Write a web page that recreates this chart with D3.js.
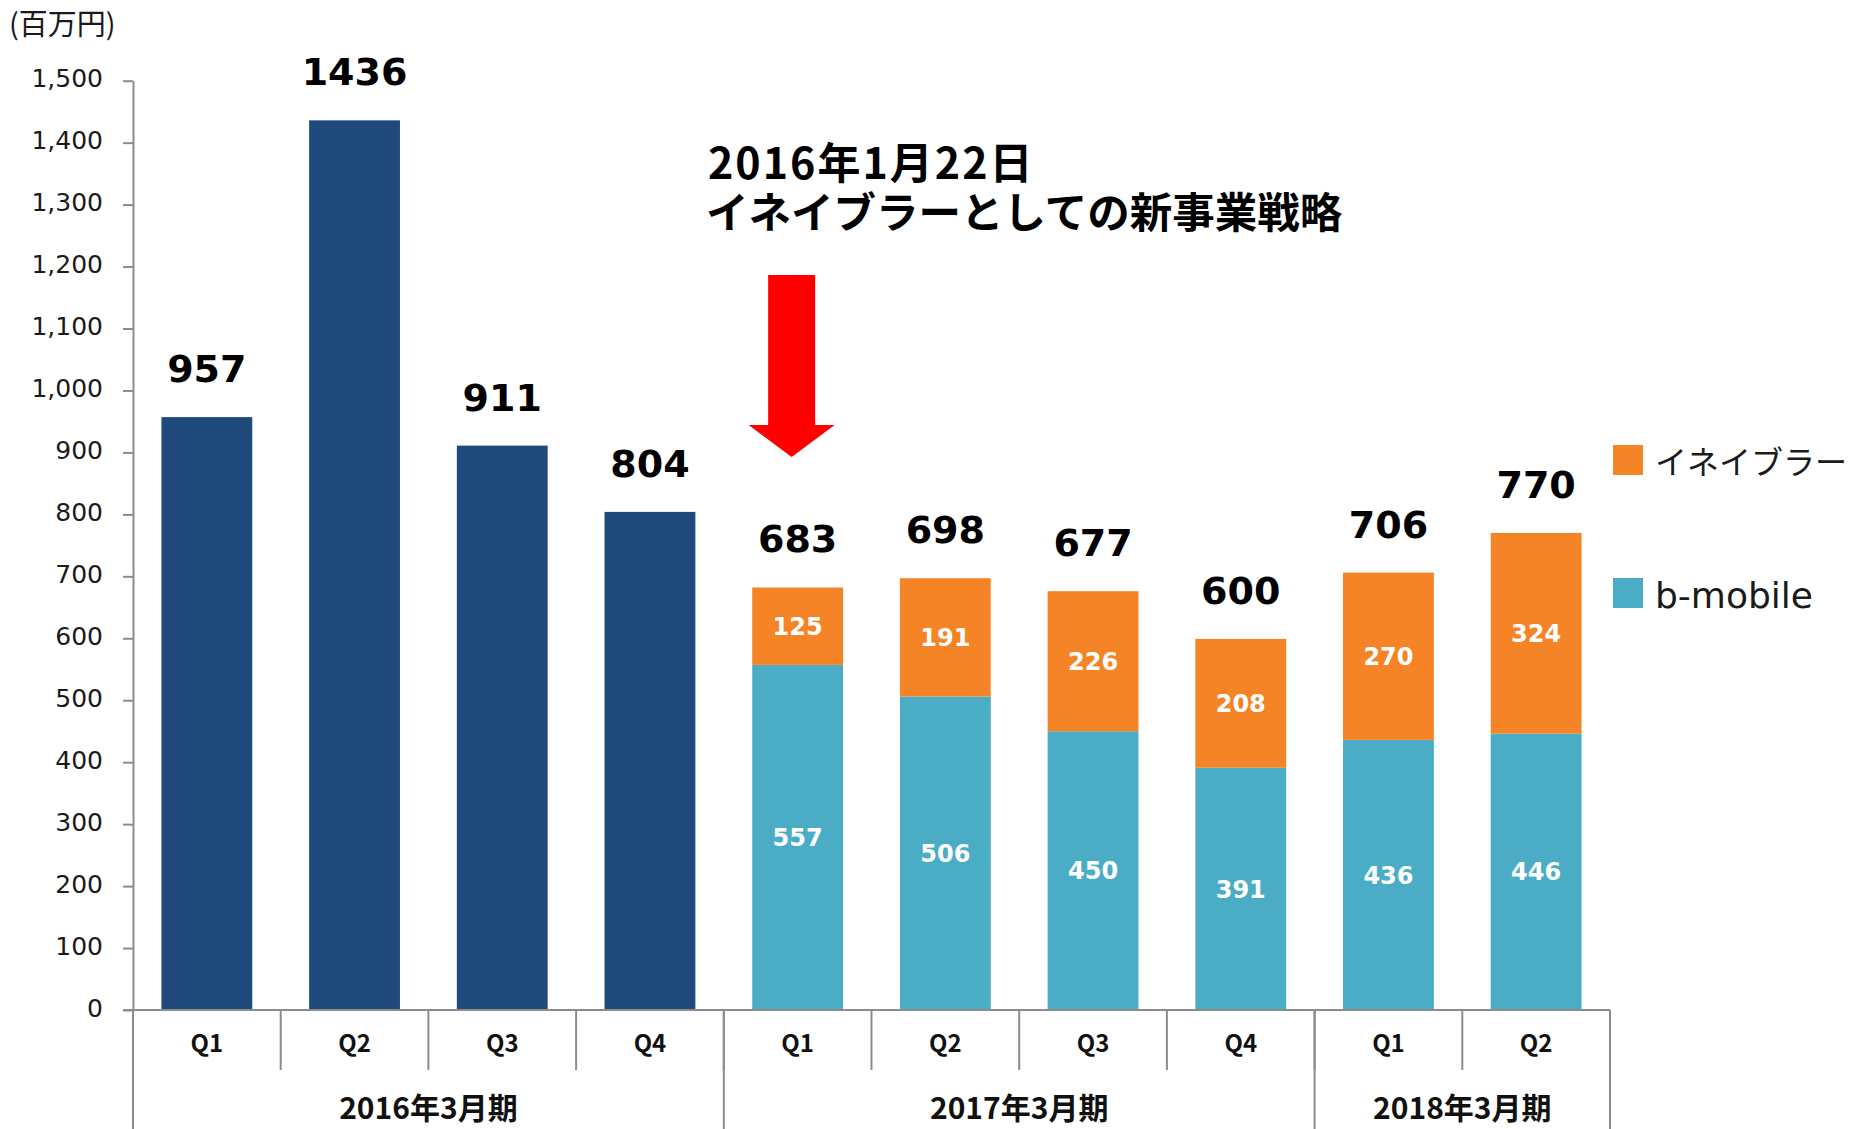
<!DOCTYPE html>
<html>
<head>
<meta charset="utf-8">
<script src="https://cdn.jsdelivr.net/npm/d3@7"></script>
<style>
  html, body { margin: 0; padding: 0; background: #fff; }
  svg { display: block; }
</style>
</head>
<body>
<svg id="chart" width="1850" height="1129"></svg>
<script>
// ---------- DATA ----------
const quarters = ["Q1", "Q2", "Q3", "Q4", "Q1", "Q2", "Q3", "Q4", "Q1", "Q2"];
const fiscalYears = ["2016年3月期", "2017年3月期", "2018年3月期"];
const fiscalYearSpans = [4, 4, 2];
const legacyValues = [957, 1436, 911, 804];              // 2016年3月期 (single series)
const bmobileValues = [557, 506, 450, 391, 436, 446];     // b-mobile
const enablerValues = [125, 191, 226, 208, 270, 324];     // イネイブラー
const totalValues = [957, 1436, 911, 804, 683, 698, 677, 600, 706, 770];
const yTicks = [0, 100, 200, 300, 400, 500, 600, 700, 800, 900, 1000, 1100, 1200, 1300, 1400, 1500];
const seriesNames = ["イネイブラー", "b-mobile"];
const unitLabel = "(百万円)";
const annotationLines = ["2016年1月22日", "イネイブラーとしての新事業戦略"];

// ---------- STYLE ----------
const C_NAVY = "#214A7C", C_TEAL = "#4BACC6", C_ORANGE = "#F58426", C_AXIS = "#8C8C8C";
const NUM_FONT = "'DejaVu Sans', Verdana, sans-serif";
const JP_FONT = "'Noto Sans CJK JP', 'Noto Sans', sans-serif";

const svg = d3.select("#chart");
const keys = quarters.map((q, i) => i);

const x = d3.scaleBand().domain(keys).range([133, 1610]).paddingInner(0.385).paddingOuter(0.1925);
const y = d3.scaleLinear().domain([0, 1500]).range([1010, 80.7]);
const step = x.step();
const cellLeft = i => x(i) - x.paddingOuter() * step;

// ---------- Y AXIS ----------
const yAxis = d3.axisLeft(y).tickValues(yTicks).tickFormat(d3.format(",")).tickSize(10).tickSizeOuter(0).tickPadding(20);
const gy = svg.append("g").attr("transform", "translate(133,0)").call(yAxis);
gy.select(".domain").attr("stroke", C_AXIS).attr("stroke-width", 2);
gy.selectAll(".tick line").attr("stroke", C_AXIS).attr("stroke-width", 2);
gy.selectAll(".tick text").attr("font-family", NUM_FONT).attr("font-size", 25).attr("fill", "#1a1a1a").attr("dy", "0.25em");

svg.append("text").attr("x", 9).attr("y", 35).attr("font-family", JP_FONT).attr("font-size", 29)
  .attr("fill", "#1a1a1a").text(unitLabel);

// ---------- BARS ----------
const legacy = legacyValues.map((v, i) => ({ i, v }));
svg.append("g").selectAll("rect").data(legacy).join("rect")
  .attr("x", d => x(d.i)).attr("width", x.bandwidth())
  .attr("y", d => y(d.v)).attr("height", d => y(0) - y(d.v)).attr("fill", C_NAVY);

const stackRows = bmobileValues.map((b, j) => ({ i: j + legacyValues.length, bmobile: b, enabler: enablerValues[j] }));
const stacked = d3.stack().keys(["bmobile", "enabler"])(stackRows);
const colorOf = { bmobile: C_TEAL, enabler: C_ORANGE };
const gs = svg.append("g");
stacked.forEach(layer => {
  gs.append("g").selectAll("rect").data(layer).join("rect")
    .attr("x", d => x(d.data.i)).attr("width", x.bandwidth())
    .attr("y", d => y(d[1])).attr("height", d => y(d[0]) - y(d[1]))
    .attr("fill", colorOf[layer.key]);
  gs.append("g").selectAll("text").data(layer).join("text")
    .attr("x", d => x(d.data.i) + x.bandwidth() / 2)
    .attr("y", d => (y(d[0]) + y(d[1])) / 2)
    .attr("dy", "0.36em")
    .attr("text-anchor", "middle").attr("font-family", NUM_FONT).attr("font-weight", "bold")
    .attr("font-size", 24).attr("fill", "#fff")
    .text(d => d.data[layer.key]);
});

// totals
const stackTops = legacyValues.concat(bmobileValues.map((b, j) => b + enablerValues[j]));
svg.append("g").selectAll("text").data(totalValues).join("text")
  .attr("x", (d, i) => x(i) + x.bandwidth() / 2)
  .attr("y", (d, i) => y(stackTops[i]) - 35)
  .attr("text-anchor", "middle").attr("font-family", NUM_FONT).attr("font-weight", "bold")
  .attr("font-size", 38).attr("fill", "#000")
  .text(d => d);

// ---------- X AXIS (two-level) ----------
const gx = svg.append("g");
gx.append("line").attr("x1", 123).attr("x2", 1610).attr("y1", y(0)).attr("y2", y(0))
  .attr("stroke", C_AXIS).attr("stroke-width", 2);
keys.slice(1).forEach(i => {
  gx.append("line").attr("x1", cellLeft(i)).attr("x2", cellLeft(i)).attr("y1", y(0)).attr("y2", 1070)
    .attr("stroke", C_AXIS).attr("stroke-width", 2);
});
let acc = 0;
const groupBounds = [0];
fiscalYearSpans.forEach(s => { acc += s; groupBounds.push(acc); });
groupBounds.forEach(b => {
  const xx = b < quarters.length ? cellLeft(b) : cellLeft(b - 1) + step;
  gx.append("line").attr("x1", xx).attr("x2", xx).attr("y1", y(0)).attr("y2", 1129)
    .attr("stroke", C_AXIS).attr("stroke-width", 2);
});
gx.selectAll("text.q").data(quarters).join("text").attr("class", "q")
  .attr("x", (d, i) => x(i) + x.bandwidth() / 2).attr("y", 1044).attr("dy", "0.35em")
  .attr("text-anchor", "middle").attr("font-family", JP_FONT).attr("font-weight", "bold")
  .attr("font-size", 24).attr("fill", "#111").text(d => d);
gx.selectAll("text.fy").data(fiscalYears).join("text").attr("class", "fy")
  .attr("x", (d, k) => {
    const a = cellLeft(groupBounds[k]);
    const b = cellLeft(groupBounds[k + 1] - 1) + step;
    return (a + b) / 2;
  })
  .attr("y", 1119).attr("text-anchor", "middle").attr("font-family", JP_FONT).attr("font-weight", "bold")
  .attr("font-size", 30).attr("fill", "#111").text(d => d);

// ---------- LEGEND ----------
const legend = svg.append("g");
const legendColors = [C_ORANGE, C_TEAL];
const legendY = [445, 578];
seriesNames.forEach((n, k) => {
  legend.append("rect").attr("x", 1613).attr("y", legendY[k]).attr("width", 30).attr("height", 30).attr("fill", legendColors[k]);
  legend.append("text").attr("x", 1655).attr("y", legendY[k] + 17).attr("dy", "0.36em")
    .attr("font-family", k === 0 ? JP_FONT : NUM_FONT).attr("font-size", k === 0 ? 32 : 36)
    .attr("fill", "#1a1a1a").text(n);
});

// ---------- ANNOTATION ----------
const ann = svg.append("g");
ann.append("text").attr("x", 708).attr("y", 179).attr("font-family", JP_FONT).attr("font-weight", "bold")
  .attr("font-size", 43).attr("letter-spacing", 2).attr("fill", "#000").text(annotationLines[0]);
ann.append("text").attr("x", 706).attr("y", 228).attr("font-family", JP_FONT).attr("font-weight", "bold")
  .attr("font-size", 42.5).attr("fill", "#000").text(annotationLines[1]);

const ax = x(4) + x.bandwidth() / 2 - 6;
const arrowPts = [[ax - 23.5, 275], [ax + 23.5, 275], [ax + 23.5, 425], [ax + 43, 425], [ax, 457], [ax - 43, 425], [ax - 23.5, 425]];
ann.append("path").attr("d", d3.line()(arrowPts) + "Z").attr("fill", "#FF0000");
</script>
</body>
</html>
